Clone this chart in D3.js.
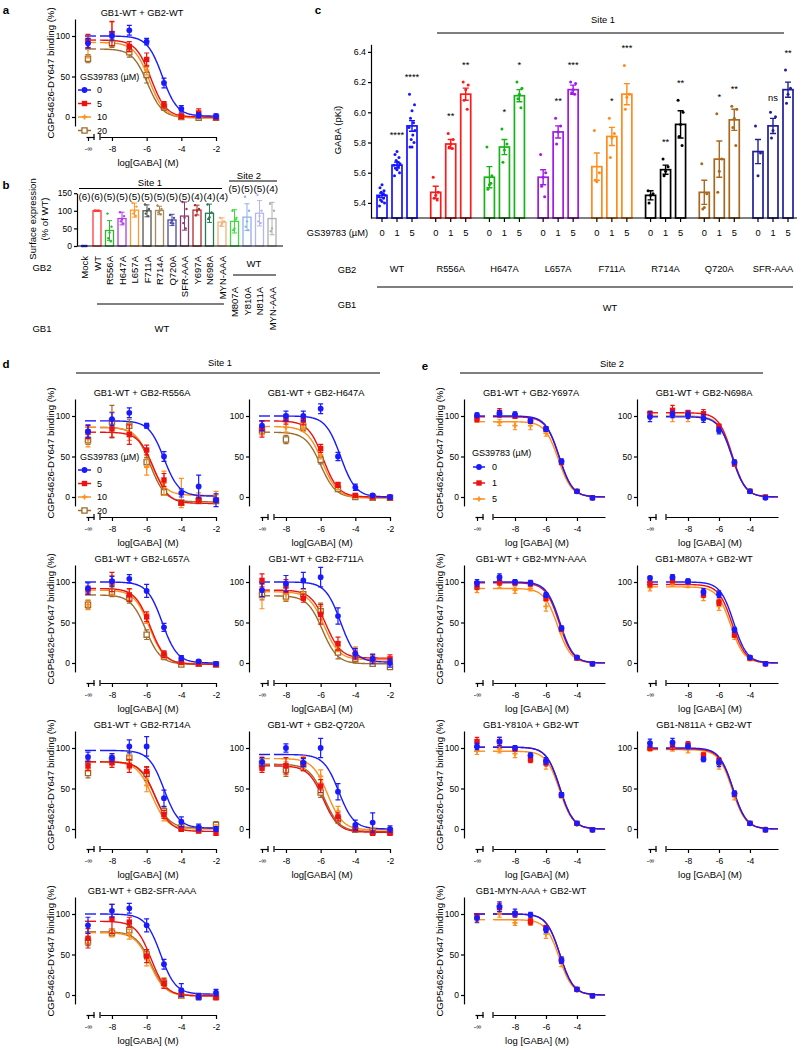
<!DOCTYPE html>
<html>
<head>
<meta charset="utf-8">
<script src="https://cdn.jsdelivr.net/npm/d3@7/dist/d3.min.js"></script>
<style>
  html, body { margin: 0; padding: 0; background: #fff; }
  svg text { font-family: "Liberation Sans", Arial, Helvetica, sans-serif; fill: #000; }
</style>
</head>
<body>
<svg id="fig" width="802" height="1050" viewBox="0 0 802 1050"></svg>
<script>
// ====================== DATA ======================
// --- binding curves (panels a, d, e) ---
const bindingTitles = [
  "GB1-WT + GB2-WT",
  "GB1-WT + GB2-R556A", "GB1-WT + GB2-H647A", "GB1-WT + GB2-L657A", "GB1-WT + GB2-F711A",
  "GB1-WT + GB2-R714A", "GB1-WT + GB2-Q720A", "GB1-WT + GB2-SFR-AAA",
  "GB1-WT + GB2-Y697A", "GB1-WT + GB2-N698A", "GB1-WT + GB2-MYN-AAA", "GB1-M807A + GB2-WT",
  "GB1-Y810A + GB2-WT", "GB1-N811A + GB2-WT", "GB1-MYN-AAA + GB2-WT"
];
const concD = ["-∞", -8, -7, -6, -5, -4, -3, -2];   // log[GABA] (M)
const concE = ["-∞", -9, -8, -7, -6, -5, -4, -3];
const doseD = ["0", "5", "10", "20"];               // GS39783 (µM)
const doseE = ["0", "1", "5"];
const xTicksD = [-8, -6, -4, -2];
const xTicksE = [-8, -6, -4];
const yTicksBinding = [0, 50, 100];

// mean binding (%) per plot, per GS39783 dose, per concentration
const bindingMeans = [
  [[91,100,107,93,42,10,2,1],[94,103,87,71,15,1,5,-1],[85,105,85,58,15,0,0,-1],[72,91,80,52,12,0,-1,-1]],
  [[81,96,104,88,50,5,13,-4],[80,84,77,58,21,-7,-4,-4],[72,95,80,37,17,5,0,3],[70,93,88,43,6,-7,-5,-5]],
  [[88,100,100,109,50,12,2,0],[84,96,95,60,15,2,0,-1],[85,86,86,52,12,1,-1,0],[82,71,87,46,10,0,-1,-1]],
  [[92,101,104,89,44,6,2,-1],[90,100,84,57,11,1,-1,-2],[72,96,85,55,10,0,-1,-2],[72,88,80,35,8,-2,-1,-2]],
  [[90,98,102,106,58,12,5,0],[102,95,80,60,24,10,5,5],[82,85,85,62,20,12,5,3],[84,82,85,64,13,5,-1,-5]],
  [[89,88,102,102,38,9,2,0],[78,82,78,71,18,0,-2,-5],[80,85,82,54,15,0,0,2],[69,85,88,68,22,2,0,5]],
  [[83,100,82,100,46,5,8,0],[75,78,80,53,15,0,-5,-5],[82,75,82,65,22,2,-1,-2],[80,73,80,45,12,-1,-3,-3]],
  [[86,104,107,86,38,6,-2,3],[70,94,90,48,14,2,-2,-3],[70,77,75,44,15,-1,-2,-2],[66,77,80,50,15,-1,-2,-2]],
  [[101,103,102,94,84,44,7,-1],[97,104,100,94,84,43,7,-1],[96,92,88,88,79,43,7,-1]],
  [[99,102,101,97,82,43,7,-1],[103,107,104,103,87,41,7,0],[99,99,98,98,85,41,8,0]],
  [[99,106,100,99,84,43,7,-1],[95,100,99,98,80,42,6,-1],[91,97,90,92,70,40,6,-1]],
  [[105,106,101,88,85,41,7,-1],[98,102,100,85,75,35,6,-1],[93,98,97,82,70,32,5,-1]],
  [[102,108,100,91,84,42,7,-1],[108,108,99,86,82,42,7,-1],[96,99,93,90,80,41,6,-1]],
  [[106,107,102,86,82,44,7,-1],[100,103,104,91,84,43,7,-1],[99,100,98,92,79,40,7,0]],
  [[95,109,101,99,81,43,7,-1],[97,108,100,91,83,43,7,-1],[93,100,89,90,75,39,6,-1]]
];
const bindingSems = [
  [[6,5,6,4,6,4,3,3],[8,15,6,8,4,3,5,2],[12,12,5,6,4,2,2,2],[5,5,6,10,4,2,2,2]],
  [[8,8,6,3,6,5,14,8],[8,10,12,6,8,3,4,3],[10,10,10,10,15,18,5,4],[5,20,8,6,4,2,2,2]],
  [[6,6,6,6,5,4,2,2],[10,6,6,5,3,2,2,2],[8,6,5,5,3,2,2,2],[5,5,5,5,3,2,2,2]],
  [[7,6,5,8,5,3,2,2],[5,12,8,6,4,2,2,2],[6,12,6,6,4,2,2,2],[5,6,6,6,4,2,2,2]],
  [[8,10,10,12,10,6,6,5],[8,8,5,12,8,6,5,5],[15,8,6,8,6,8,5,5],[6,6,6,10,8,5,3,3]],
  [[6,5,8,12,10,6,4,3],[6,6,8,6,5,3,3,3],[6,6,8,8,5,3,3,3],[6,6,8,8,5,3,3,4]],
  [[5,5,5,12,10,6,12,4],[5,10,8,8,5,3,3,3],[8,8,8,8,6,3,3,3],[5,8,8,6,5,3,3,3]],
  [[10,8,6,8,6,8,4,4],[12,18,6,8,6,4,3,3],[6,5,6,8,6,3,3,3],[5,5,6,6,6,3,3,3]],
  [[3,4,3,3,3,3,2,2],[4,5,3,3,3,3,2,2],[4,4,5,5,4,3,2,2]],
  [[6,4,4,5,4,3,2,2],[3,6,3,5,3,3,2,2],[3,6,5,4,3,3,2,2]],
  [[4,4,3,3,3,3,2,2],[4,4,3,3,3,3,2,2],[4,4,4,3,6,3,2,2]],
  [[2,3,3,4,4,3,2,2],[4,3,3,4,4,3,2,2],[4,3,4,5,5,3,2,2]],
  [[4,5,3,3,4,3,2,2],[5,5,3,4,4,3,2,2],[4,5,5,4,6,3,2,2]],
  [[5,5,3,3,5,3,2,2],[3,5,4,3,4,3,2,2],[3,4,4,3,5,4,2,2]],
  [[5,6,5,3,4,4,2,2],[3,5,3,4,3,3,2,2],[4,4,3,4,5,4,2,2]]
];
// fitted curve parameters [top, bottom, logIC50] (Hill slope 1)
const fitParams = [
  [[100,1,-5.1],[95,0,-5.75],[92,-1,-5.85],[84,-1,-5.95]],
  [[94,1,-5.0],[80,-8,-5.6],[86,2,-5.8],[86,-6,-5.8]],
  [[100,0,-4.85],[94,0,-5.85],[87,-1,-5.9],[80,-1,-6.0]],
  [[100,0,-5.1],[92,-1.5,-5.8],[90,-1,-5.85],[84,-1.5,-6.05]],
  [[100,1,-4.85],[90,6,-5.7],[88,4,-5.8],[83,-1,-5.9]],
  [[97,1,-5.0],[83,-3,-5.5],[83,0,-5.7],[83,1,-5.55]],
  [[92,0,-4.95],[78,-4,-5.85],[87,-1,-5.6],[80,-3,-5.8]],
  [[100,1,-5.2],[91,-1,-5.75],[77,-1,-5.8],[78,-1,-5.75]],
  [[100,0,-5.15],[99,0,-5.15],[93,0,-5.2]],
  [[99,0,-5.15],[104,0,-5.15],[100,0,-5.15]],
  [[100,0,-5.1],[99,0,-5.15],[92,0,-5.25]],
  [[100,0,-5.05],[97,0,-5.15],[94,0,-5.25]],
  [[101,0,-5.1],[101,0,-5.1],[96,0,-5.12]],
  [[100,0,-5.1],[99,0,-5.1],[98,0,-5.15]],
  [[100,0,-5.1],[100,0,-5.1],[93,0,-5.15]]
];

// --- panel b: surface expression ---
const surfCats = ["Mock","WT","R556A","H647A","L657A","F711A","R714A","Q720A","SFR-AAA","Y697A","N698A","MYN-AAA","WT","WT","WT","WT"];
const surfGB1 = ["","WT","WT","WT","WT","WT","WT","WT","WT","WT","WT","WT","M807A","Y810A","N811A","MYN-AAA"];
const surfMeans = [0,100,44,78,102,100,101,74,85,102,93,68,70,82,93,78];
const surfSD = [0,0,28,18,20,17,12,16,40,14,26,12,33,38,36,46];
const surfN = [6,6,5,5,5,5,5,5,5,4,4,4,5,5,5,4];
const surfDots = [
  [0,0,0,0,0,0],[100,100,100,100,100,100],[92,55,38,22,13],[96,85,75,70,64],[122,112,98,92,86],
  [118,105,100,92,85],[115,105,100,95,90],[88,80,72,66,64],[125,105,80,65,50],[116,105,100,87],
  [118,95,82,77],[80,70,64,58],[100,80,50,45,75],[140,100,70,55,45],[145,100,85,70,65],[120,100,50,42]
];
const surfTicks = [0,50,100,150];

// --- panel c: GABA pKi ---
const pkiGroups = ["WT","R556A","H647A","L657A","F711A","R714A","Q720A","SFR-AAA"];
const pkiDoses = ["0","1","5"];
const pkiMeans = [[5.45,5.65,5.91],[5.47,5.79,6.12],[5.57,5.77,6.11],[5.57,5.87,6.15],[5.64,5.84,6.12],[5.45,5.62,5.92],[5.47,5.69,5.95],[5.74,5.91,6.15]];
const pkiSems = [[0.015,0.02,0.035],[0.04,0.03,0.04],[0.07,0.05,0.04],[0.05,0.04,0.03],[0.09,0.06,0.07],[0.03,0.03,0.09],[0.08,0.12,0.07],[0.08,0.05,0.05]];
const pkiDots = [
  [[5.38,5.40,5.41,5.42,5.43,5.44,5.45,5.46,5.47,5.48,5.50,5.52],[5.58,5.60,5.62,5.63,5.64,5.65,5.66,5.67,5.68,5.70,5.72,5.74],[6.12,6.05,6.01,5.96,5.93,5.90,5.88,5.85,5.82,5.80,5.77,5.77]],
  [[5.57,5.47,5.45,5.43,5.42],[5.86,5.82,5.79,5.77,5.76],[6.20,6.18,6.15,6.08,6.02]],
  [[5.77,5.58,5.52,5.49,5.53],[5.89,5.79,5.75,5.67],[6.20,6.16,6.12,6.09,6.03]],
  [[5.72,5.60,5.57,5.51,5.44],[5.96,5.91,5.87,5.79],[6.20,6.19,6.15,6.13,6.12]],
  [[5.88,5.60,5.54,5.55],[5.96,5.86,5.83,5.70],[6.31,6.12,6.10,6.02]],
  [[5.48,5.46,5.45,5.40],[5.69,5.64,5.61,5.58],[6.08,6.00,5.92,5.84,5.78]],
  [[5.66,5.46,5.37,5.36],[5.99,5.69,5.61,5.47],[6.04,6.02,5.96,5.90,5.78]],
  [[5.91,5.73,5.58],[6.00,5.97,5.88,5.83],[6.28,6.16,6.12,6.06]]
];
const pkiStars = [["","****","****"],["","**","**"],["","*","*"],["","**","***"],["","*","***"],["","**","**"],["","*","**"],["","ns","**"]];
const pkiTicks = [5.4,5.6,5.8,6.0,6.2,6.4];

// ====================== STYLE / LAYOUT ======================
const colorsD = ["#1a1aff", "#ee1111", "#ff8f1f", "#9e6b2c"];
const colorsE = ["#1a1aff", "#ee1111", "#ff8f1f"];
const surfColors = ["#3333ff","#ff3a3a","#2db82d","#b23ee8","#ff9a33","#555555","#a88a5a","#4a4aa8","#8a3a72","#b22a2a","#2a7a55","#f2b27a","#3ddc3d","#8fb0ee","#b6b6f0","#b0b0b0"];
const pkiColors = ["#1515ff","#ff1a1a","#19b319","#a319e6","#ff8c1a","#000000","#a8691f","#1f1f99"];

const svg = d3.select("#fig");

function label(x, y, str, size, opts = {}) {
  const t = svg.append("text").attr("x", x).attr("y", y).attr("font-size", size)
    .attr("text-anchor", opts.anchor || "middle").attr("dominant-baseline", "central").text(str);
  if (opts.bold) t.attr("font-weight", "bold");
  if (opts.rotate) t.attr("transform", `rotate(${opts.rotate},${x},${y})`);
  return t;
}
function hline(x1, x2, y, w = 1.2) {
  svg.append("line").attr("x1", x1).attr("x2", x2).attr("y1", y).attr("y2", y).attr("stroke", "#000").attr("stroke-width", w);
}
function styleAxis(g, fs) {
  g.select(".domain").attr("stroke", "#000").attr("stroke-width", 1.2);
  g.selectAll(".tick line").attr("stroke", "#000").attr("stroke-width", 1.2);
  g.selectAll(".tick text").attr("font-size", fs).attr("fill", "#000");
}
const symbols = [
  {type: d3.symbolCircle, size: 26, open: false},
  {type: d3.symbolSquare, size: 29, open: false},
  {type: d3.symbolCross, size: 15, open: false},
  {type: d3.symbolSquare, size: 27, open: true}
];
function marker(g, k, x, y, color) {
  const s = symbols[k];
  g.append("path").attr("d", d3.symbol(s.type, s.size)()).attr("transform", `translate(${x},${y})`)
    .attr("fill", s.open ? "#fff" : color).attr("stroke", s.open ? color : "none").attr("stroke-width", 1.3);
}

const bindingLayout = [
  {x0: 75, yb: 117, kind: "D", ylab: true, legend: true},
  {x0: 75, yb: 497, kind: "D", ylab: true, legend: true},
  {x0: 249, yb: 497, kind: "D"},
  {x0: 75, yb: 663, kind: "D", ylab: true},
  {x0: 249, yb: 663, kind: "D"},
  {x0: 75, yb: 829, kind: "D", ylab: true},
  {x0: 249, yb: 829, kind: "D"},
  {x0: 75, yb: 995, kind: "D", ylab: true},
  {x0: 464, yb: 497, kind: "E", ylab: true, legend: true},
  {x0: 637, yb: 497, kind: "E"},
  {x0: 464, yb: 663, kind: "E", ylab: true},
  {x0: 637, yb: 663, kind: "E"},
  {x0: 464, yb: 829, kind: "E", ylab: true},
  {x0: 637, yb: 829, kind: "E"},
  {x0: 464, yb: 995, kind: "E", ylab: true}
];

function drawBinding(p) {
  const L = bindingLayout[p];
  const isD = L.kind === "D";
  const conc = isD ? concD : concE;
  const doses = isD ? doseD : doseE;
  const colors = isD ? colorsD : colorsE;
  const g = svg.append("g");
  const y = d3.scaleLinear().domain([-11, 121]).range([L.yb + 11 * 0.81, L.yb - 121 * 0.81]);
  const xMain = d3.scaleLinear().domain(isD ? [-8.69, -2] : [-9.42, -2.19])
    .range(isD ? [L.x0 + 25, L.x0 + 141] : [L.x0 + 29, L.x0 + 141]);
  const xInf = d3.scalePoint().domain(["-∞"]).range([L.x0 + 11, L.x0 + 19]).align(0.25);
  const xOf = c => typeof c === "string" ? xInf(c) : xMain(c);
  const xa = L.yb + 20;

  const ya = g.append("g").attr("transform", `translate(${L.x0},0)`)
    .call(d3.axisLeft(y).tickValues(yTicksBinding).tickSize(3).tickSizeOuter(0).tickPadding(2));
  styleAxis(ya, 8.5);
  const xm = g.append("g").attr("transform", `translate(0,${xa})`)
    .call(d3.axisBottom(xMain).tickValues(isD ? xTicksD : xTicksE).tickSize(4).tickSizeOuter(0).tickPadding(5).tickFormat(d => String(d)));
  styleAxis(xm, 8.5);
  const xi = g.append("g").attr("transform", `translate(0,${xa})`)
    .call(d3.axisBottom(xInf).tickSize(4).tickSizeOuter(0).tickPadding(5));
  styleAxis(xi, 7);
  [L.x0 + 19, xMain.range()[0]].forEach(bx =>
    g.append("line").attr("x1", bx).attr("x2", bx).attr("y1", xa - 3).attr("y2", xa + 3).attr("stroke", "#000").attr("stroke-width", 1.2));

  const means = bindingMeans[p], sems = bindingSems[p], fits = fitParams[p];
  const [d0, d1] = xMain.domain();
  const xs = d3.range(0, 161).map(i => d0 + (d1 - d0) * i / 160);
  for (let s = means.length - 1; s >= 0; s--) {
    const [top, bot, ic] = fits[s];
    const f = v => bot + (top - bot) / (1 + Math.pow(10, v - ic));
    g.append("path").datum(xs).attr("fill", "none").attr("stroke", colors[s]).attr("stroke-width", 1.4)
      .attr("d", d3.line().x(v => xMain(v)).y(v => y(f(v))));
    g.append("line").attr("x1", L.x0 + 10).attr("x2", L.x0 + 21).attr("y1", y(top)).attr("y2", y(top))
      .attr("stroke", colors[s]).attr("stroke-width", 1.4);
  }
  for (let s = means.length - 1; s >= 0; s--) {
    conc.forEach((c, i) => {
      const cx = xOf(c), m = means[s][i], e = sems[s][i];
      const cw = isD ? 2.5 : 2.2;
      g.append("path").attr("fill", "none").attr("stroke", colors[s]).attr("stroke-width", 1.2)
        .attr("d", `M${cx},${y(m - e)}V${y(m + e)}M${cx - cw},${y(m + e)}H${cx + cw}M${cx - cw},${y(m - e)}H${cx + cw}`);
      marker(g, s, cx, y(m), colors[s]);
    });
  }
  label(L.x0 + 67, L.yb - 104, bindingTitles[p], 9.3);
  label(L.x0 + 73, L.yb + 45, isD ? "log[GABA] (M)" : "log [GABA] (M)", 9.5);
  if (L.ylab) label(L.x0 - 25, L.yb - 44, "CGP54626-DY647 binding (%)", 9.6, {rotate: -90});
  if (L.legend) {
    const lx = L.x0 + (isD ? 5 : 8);
    label(lx, L.yb - (isD ? 40 : 44), "GS39783 (µM)", 9, {anchor: "start"});
    const offs = isD ? [-27, -13.5, 0, 13.5] : [-30, -14, 2];
    const l1 = L.x0 + (isD ? 3 : 9), l2 = L.x0 + (isD ? 16 : 21), tx = L.x0 + (isD ? 22 : 28);
    doses.forEach((d, s) => {
      const ly = L.yb + offs[s];
      g.append("line").attr("x1", l1).attr("x2", l2).attr("y1", ly).attr("y2", ly).attr("stroke", colors[s]).attr("stroke-width", 1.5);
      marker(g, s, (l1 + l2) / 2, ly, colors[s]);
      label(tx, ly, d, 9, {anchor: "start"});
    });
  }
}
bindingLayout.forEach((_, p) => drawBinding(p));

// ====================== PANEL LABELS & HEADERS ======================
label(6, 10, "a", 11.5, {bold: true});
label(6, 185, "b", 11.5, {bold: true});
label(318, 10, "c", 11.5, {bold: true});
label(6, 364, "d", 11.5, {bold: true});
label(425, 366, "e", 11.5, {bold: true});
label(220, 363, "Site 1", 9.3); hline(76, 380, 373);
label(612, 364, "Site 2", 9.3); hline(460, 763, 373);

// ====================== PANEL b ======================
(function () {
  const yb = d3.scaleLinear().domain([0, 150]).range([246, 246 - 150 * 0.352]);
  const xb = d3.scalePoint().domain(d3.range(surfCats.length)).range([84.5, 272]);
  const g = svg.append("g");
  const ya = g.append("g").attr("transform", "translate(77,0)")
    .call(d3.axisLeft(yb).tickValues(surfTicks).tickSize(3).tickSizeOuter(0).tickPadding(2));
  styleAxis(ya, 8.5);
  hline(77, 283, 246);
  surfMeans.forEach((m, i) => {
    const cx = xb(i), col = surfColors[i];
    g.append("rect").attr("x", cx - 4).attr("width", 8).attr("y", yb(m)).attr("height", Math.max(0, 246 - yb(m)))
      .attr("fill", "#fff").attr("stroke", col).attr("stroke-width", 1.3);
    const sd = surfSD[i];
    if (sd > 0) g.append("path").attr("fill", "none").attr("stroke", col).attr("stroke-width", 1)
      .attr("d", `M${cx},${yb(m - sd)}V${yb(m + sd)}M${cx - 2.5},${yb(m + sd)}H${cx + 2.5}M${cx - 2.5},${yb(m - sd)}H${cx + 2.5}`);
    const jit = [-2, 2, 0, -1.2, 1.2, -2.5];
    surfDots[i].forEach((v, j) => g.append("circle").attr("cx", cx + jit[j % jit.length]).attr("cy", yb(v)).attr("r", 1.2).attr("fill", col));
    label(cx, i < 12 ? 196 : 188, `(${surfN[i]})`, 9.8);
    if (i < 12) label(cx, 256, surfCats[i], 9.5, {anchor: "end", rotate: -90});
    else label(cx, 287, surfGB1[i], 9.5, {anchor: "end", rotate: -90});
  });
  label(150, 182, "Site 1", 9.5); hline(79, 222, 188.5);
  label(249, 175, "Site 2", 9.5); hline(229, 277, 181);
  label(254, 263, "WT", 9.5); hline(233, 276, 275);
  label(162, 328, "WT", 9.5); hline(97, 224, 304);
  label(42, 267, "GB2", 9.5);
  label(42, 328, "GB1", 9.5);
  label(32, 219, "Surface expression", 9.5, {rotate: -90});
  label(44, 219, "(% of WT)", 9.5, {rotate: -90});
})();

// ====================== PANEL c ======================
(function () {
  const yC = d3.scaleLinear().domain([5.3, 6.45]).range([218, 218 - 1.15 * 151]);
  const xC = d3.scalePoint().domain(pkiGroups).range([397, 773]);
  const xK = d3.scalePoint().domain(pkiDoses).range([-15, 15]);
  const g = svg.append("g");
  const ya = g.append("g").attr("transform", "translate(371,0)")
    .call(d3.axisLeft(yC).tickValues(pkiTicks).tickSize(3).tickSizeOuter(0).tickPadding(2).tickFormat(d3.format(".1f")));
  styleAxis(ya, 8.8);
  hline(371, 797, 218);
  const jit = [-2.5, 2.5, 0, -1.5, 1.5, -3, 3, 0.8, -0.8, 2, -2, 0];
  pkiGroups.forEach((grp, gi) => {
    const col = pkiColors[gi];
    pkiDoses.forEach((d, k) => {
      const cx = xC(grp) + xK(d), m = pkiMeans[gi][k], e = pkiSems[gi][k];
      g.append("rect").attr("x", cx - 5).attr("width", 10).attr("y", yC(m)).attr("height", 218 - yC(m))
        .attr("fill", "#fff").attr("stroke", col).attr("stroke-width", 1.7);
      g.append("line").attr("x1", cx).attr("x2", cx).attr("y1", 218).attr("y2", 222).attr("stroke", "#000").attr("stroke-width", 1.2);
      label(cx, 233, d, 9.3);
      const dots = pkiDots[gi][k];
      dots.forEach((v, j) => g.append("circle").attr("cx", cx + jit[j % jit.length]).attr("cy", yC(v)).attr("r", 1.5).attr("fill", col));
      g.append("path").attr("fill", "none").attr("stroke", col).attr("stroke-width", 1.4)
        .attr("d", `M${cx},${yC(m - e)}V${yC(m + e)}M${cx - 3},${yC(m + e)}H${cx + 3}M${cx - 3},${yC(m - e)}H${cx + 3}`);
      const st = pkiStars[gi][k];
      if (st) {
        const top = Math.max(d3.max(dots), m + e);
        if (st === "ns") label(cx, yC(top) - 14, st, 9.3);
        else label(cx, yC(top) - 17, st, 9.3);
      }
    });
    label(xC(grp), 269, grp, 9.3);
  });
  label(368, 233, "GS39783 (µM)", 9.3, {anchor: "end"});
  label(347, 270, "GB2", 9.3);
  label(347, 305, "GB1", 9.3);
  hline(377, 793, 287);
  label(610, 308, "WT", 9.3);
  label(603, 20, "Site 1", 9.3); hline(437, 784, 33);
  label(337, 130, "GABA (pKi)", 9.5, {rotate: -90});
})();
</script>
</body>
</html>
